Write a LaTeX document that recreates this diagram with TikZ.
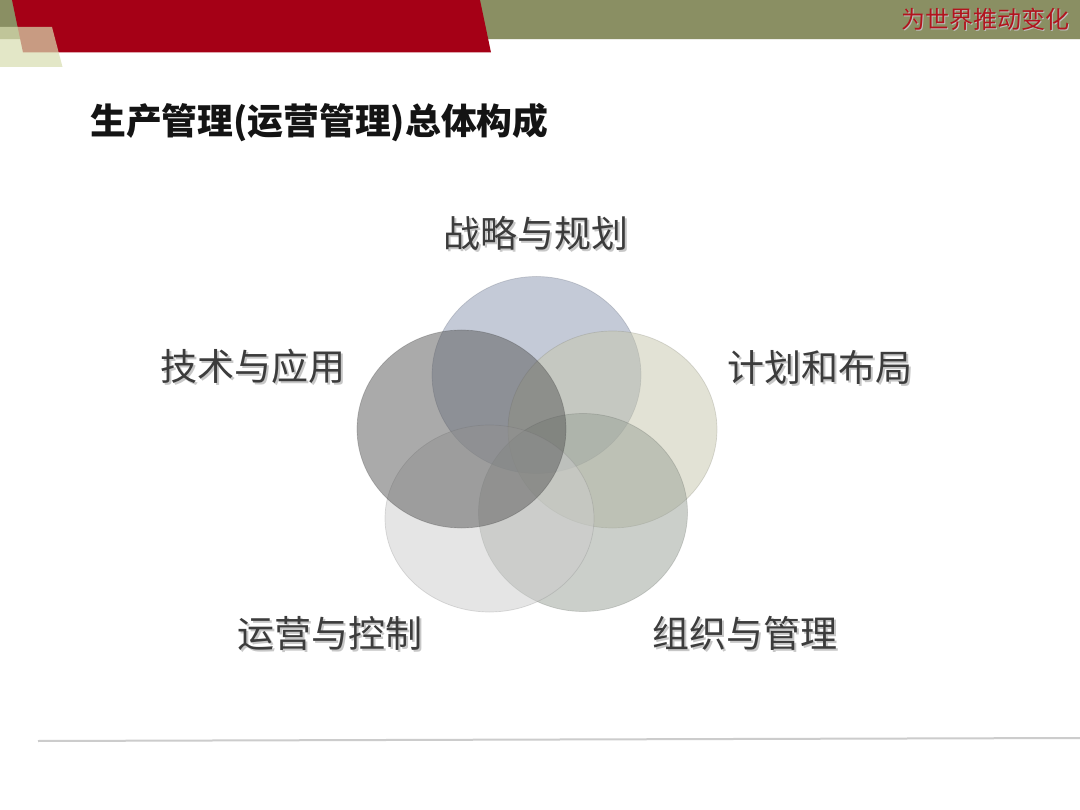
\documentclass[tikz,border=0pt]{standalone}
\usepackage{fontspec}
\newfontfamily\cjk{Noto Sans CJK SC}
\usetikzlibrary{shapes.geometric}
\definecolor{olivebar}{RGB}{138,143,99}
\definecolor{redband}{RGB}{165,0,22}
\definecolor{lightgreen}{RGB}{216,221,176}
\definecolor{slogan}{RGB}{178,20,30}
\definecolor{labelgray}{RGB}{60,60,60}
\definecolor{cTop}{RGB}{139,151,177}
\definecolor{cRight}{RGB}{199,199,173}
\definecolor{cBR}{RGB}{153,161,151}
\definecolor{cBL}{RGB}{205,205,205}
\definecolor{cLeft}{RGB}{87,87,87}
\tikzset{
  lbl/.style={inner sep=0pt, font=\cjk\fontsize{37}{42}\selectfont, text=labelgray},
  lblshadow/.style={inner sep=0pt, font=\cjk\fontsize{37}{42}\selectfont, text=black!22},
  venn/.style={fill opacity=0.5, draw opacity=0.25, line width=0.7pt},
}
\begin{document}
\begin{tikzpicture}[x=1pt,y=-1pt]
\useasboundingbox (0,0) rectangle (1080,810);
\fill[white] (0,0) rectangle (1080,810);
% header
\fill[olivebar] (0,0) rectangle (1080,39);
\fill[white!85!olivebar] (0,39) rectangle (1080,40.5);
\fill[redband] (12,0) -- (480,0) -- (491,52.5) -- (23,52.5) -- cycle;
\fill[lightgreen, opacity=0.7] (0,27) -- (52,27) -- (62.5,67) -- (0,67) -- cycle;
\node[inner sep=0pt, font=\cjk\fontsize{24}{26}\selectfont, text=black!25] (sloganshadow) at (986.5,20.5) {为世界推动变化};
\node[inner sep=0pt, font=\cjk\fontsize{24}{26}\selectfont, text=slogan] (slogan) at (985,19) {为世界推动变化};
% title
\node[anchor=west, inner sep=0pt, font=\cjk\bfseries\fontsize{35.8}{40}\selectfont, text=black!92] (title) at (90,123) {生产管理(运营管理)总体构成};
% venn circles
\filldraw[venn, fill=cTop, draw=cTop!60!black] (536.5,375) ellipse [x radius=104.5, y radius=98.5];
\filldraw[venn, fill=cRight, draw=cRight!60!black] (612.5,429.5) ellipse [x radius=104.5, y radius=98.5];
\filldraw[venn, fill=cBR, draw=cBR!60!black] (583,512.5) ellipse [x radius=104.5, y radius=99];
\filldraw[venn, fill=cBL, draw=cBL!60!black] (489.5,518.5) ellipse [x radius=104.5, y radius=93.5];
\filldraw[venn, fill=cLeft, draw=cLeft!60!black] (461.5,429) ellipse [x radius=104.5, y radius=99];
% labels
\node[lblshadow] (s1) at (538,235) {战略与规划};
\node[lbl] (l1) at (536,233) {战略与规划};
\node[lblshadow] (s2) at (255,368) {技术与应用};
\node[lbl] (l2) at (253,366) {技术与应用};
\node[lblshadow] (s3) at (822,369) {计划和布局};
\node[lbl] (l3) at (820,367) {计划和布局};
\node[lblshadow] (s4) at (332,635) {运营与控制};
\node[lbl] (l4) at (330,633) {运营与控制};
\node[lblshadow] (s5) at (747,635) {组织与管理};
\node[lbl] (l5) at (745,633) {组织与管理};
% bottom rule
\coordinate (ruleA) at (38,741);
\coordinate (ruleB) at (1080,738);
\draw[black!20, line width=2pt] (ruleA) -- (ruleB);
\end{tikzpicture}
\end{document}
